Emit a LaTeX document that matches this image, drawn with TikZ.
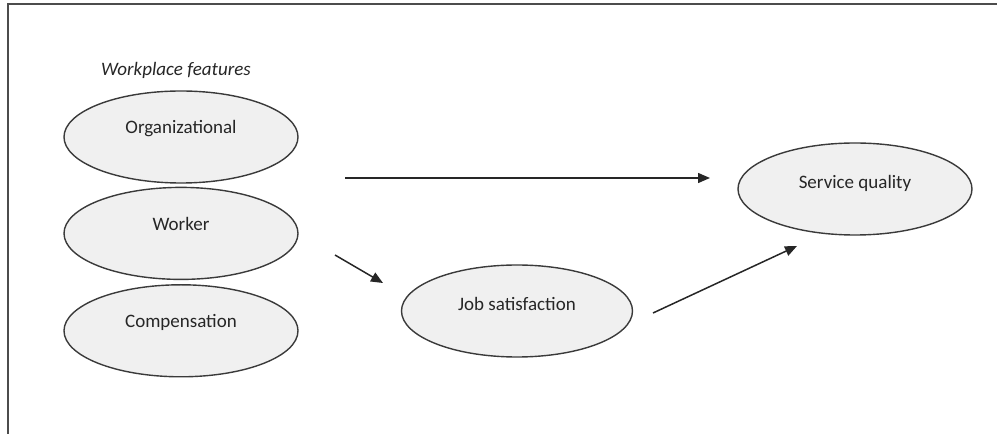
\documentclass[tikz,border=0pt]{standalone}
\usepackage{fontspec}
\setmainfont{Carlito}
\usetikzlibrary{positioning,shapes.geometric,arrows.meta}
\definecolor{ovalfill}{HTML}{F0F0F0}
\definecolor{ovalline}{HTML}{3A3A3A}
\definecolor{textgrey}{HTML}{262626}
\tikzset{
  oval/.style={
    ellipse, draw=ovalline, fill=ovalfill, line width=1.4pt,
    minimum width=234pt, minimum height=92pt, inner sep=0pt,
    text height=14pt, text depth=20pt, text=textgrey,
    font=\fontsize{19}{23}\selectfont
  },
  link/.style={line width=1.5pt, draw=black!85, -{Triangle[length=12pt,width=10pt]}}
}
\begin{document}
\begin{tikzpicture}[x=1pt, y=1pt]
            \useasboundingbox (0,0) rectangle (997,434);
            \draw[line width=1.5pt, draw=black!70] (8,0) -- (8,430) -- (997,430);

            \draw node (feat) at (176,364) [text=textgrey, font=\fontsize{19}{23}\selectfont\itshape] {Workplace features};
            \draw node (org) at (181,297) [oval] {Organizational};
            \draw node (work) [oval, below = 3pt of org] {Worker};
            \draw node (comp) [oval, below = 4pt of work] {Compensation};
            \draw node (job) at (517,123) [oval, minimum width=231pt, text depth=15pt] {Job satisfaction};
            \draw node (serv) at (855,245) [oval, text depth=15pt] {Service quality};

            \coordinate (p1) at (345,256);
            \coordinate (q1) at (710,256);
            \coordinate (p2) at (335,179);
            \coordinate (q2) at (383,151);
            \coordinate (p3) at (653,121);
            \coordinate (q3) at (797,188);
            \draw[link] (p1) -- (q1);
            \draw[link] (p2) -- (q2);
            \draw[link] (p3) -- (q3);
        \end{tikzpicture}
\end{document}
